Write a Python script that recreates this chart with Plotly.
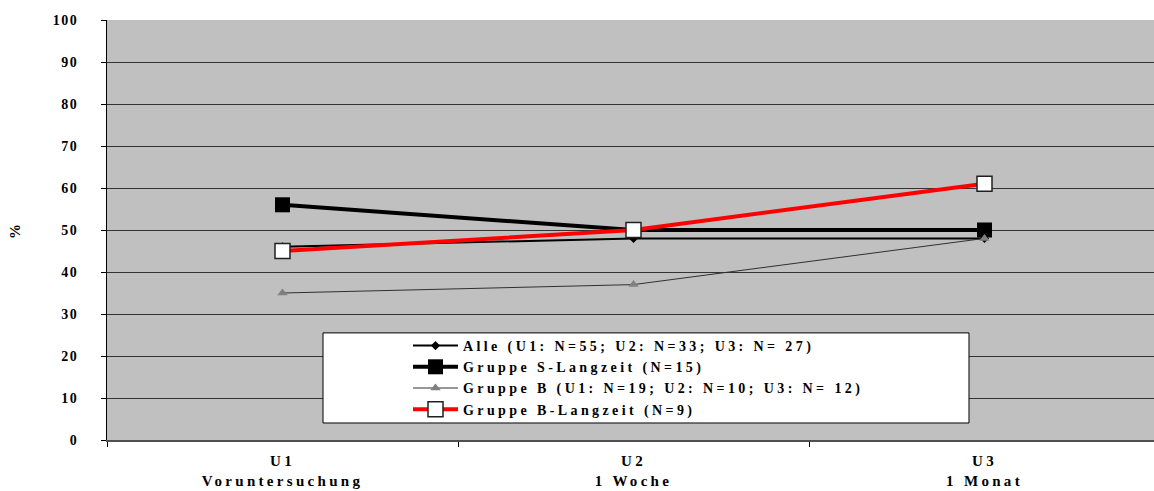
import plotly.graph_objects as go

categories = ["U1<br>Voruntersuchung", "U2<br>1 Woche", "U3<br>1 Monat"]
alle = [46, 48, 48]
s_langzeit = [56, 50, 50]
gruppe_b = [35, 37, 48]
b_langzeit = [45, 50, 61]
names = [
    "Alle (U1: N=55; U2: N=33; U3: N= 27)",
    "Gruppe S-Langzeit (N=15)",
    "Gruppe B (U1: N=19; U2: N=10; U3: N= 12)",
    "Gruppe B-Langzeit (N=9)",
]

FONT = "Liberation Serif"

fig = go.Figure()
fig.add_trace(go.Scatter(x=categories, y=alle, name=names[0], mode="lines+markers",
                         line=dict(color="black", width=2),
                         marker=dict(symbol="diamond", size=7, color="black")))
fig.add_trace(go.Scatter(x=categories, y=s_langzeit, name=names[1], mode="lines+markers",
                         line=dict(color="black", width=4),
                         marker=dict(symbol="square", size=15, color="black")))
fig.add_trace(go.Scatter(x=categories, y=gruppe_b, name=names[2], mode="lines+markers",
                         line=dict(color="#303030", width=1),
                         marker=dict(symbol="triangle-up", size=9, color="#808080")))
fig.add_trace(go.Scatter(x=categories, y=b_langzeit, name=names[3], mode="lines+markers",
                         line=dict(color="#ff0000", width=4),
                         marker=dict(symbol="square", size=15, color="white",
                                     line=dict(color="#202020", width=1.5))))

fig.add_shape(type="rect", xref="x", yref="y", x0=0.1154, x1=1.9558, y0=4.05, y1=25.5,
              fillcolor="white", line=dict(color="black", width=1), layer="above")

fig.add_annotation(text="%", xref="paper", yref="paper", x=(15 - 107) / 1047, y=(440 - 232) / 420,
                   xanchor="center", yanchor="middle",
                   showarrow=False, textangle=-90, font=dict(family=FONT, size=15, color="black", weight="bold"))

fig.update_layout(
    width=1154, height=491,
    margin=dict(l=107, r=0, t=20, b=51),
    paper_bgcolor="white", plot_bgcolor="#c0c0c0",
    font=dict(family=FONT, size=15, color="black", weight="bold"),
    showlegend=True,
    legend=dict(x=(408 - 107) / 1047, y=(440 - 330) / 420, xanchor="left", yanchor="top",
                bgcolor="rgba(0,0,0,0)", borderwidth=0, itemwidth=45,
                font=dict(family=FONT, size=14, color="black", weight="bold"),
                tracegroupgap=0),
)
fig.update_xaxes(range=[-0.5, -0.5 + 1047 / 351], showgrid=False, tickson="boundaries",
                 ticks="outside", ticklen=5, tickcolor="black", showline=True,
                 linecolor="#505050", linewidth=2, zeroline=False, ticklabelstandoff=6,
                 tickfont=dict(family=FONT, size=15, color="black", weight="bold"))
fig.update_yaxes(range=[0, 100], dtick=10, showgrid=True, gridcolor="#333333", gridwidth=1,
                 ticks="outside", ticklen=5, tickcolor="black", showline=True,
                 linecolor="black", linewidth=1, zeroline=False, ticklabelstandoff=20,
                 tickfont=dict(family=FONT, size=14, color="black", weight="bold"))

css = """
var s=document.createElement('style');
s.innerHTML='.xtick text{letter-spacing:3.3px}.ytick text{letter-spacing:1.5px}.legendtext{letter-spacing:3.4px}.legend .scrollbox,.legend g{clip-path:none !important}';
document.head.appendChild(s);
"""
fig.write_html("out.html", post_script=css)
